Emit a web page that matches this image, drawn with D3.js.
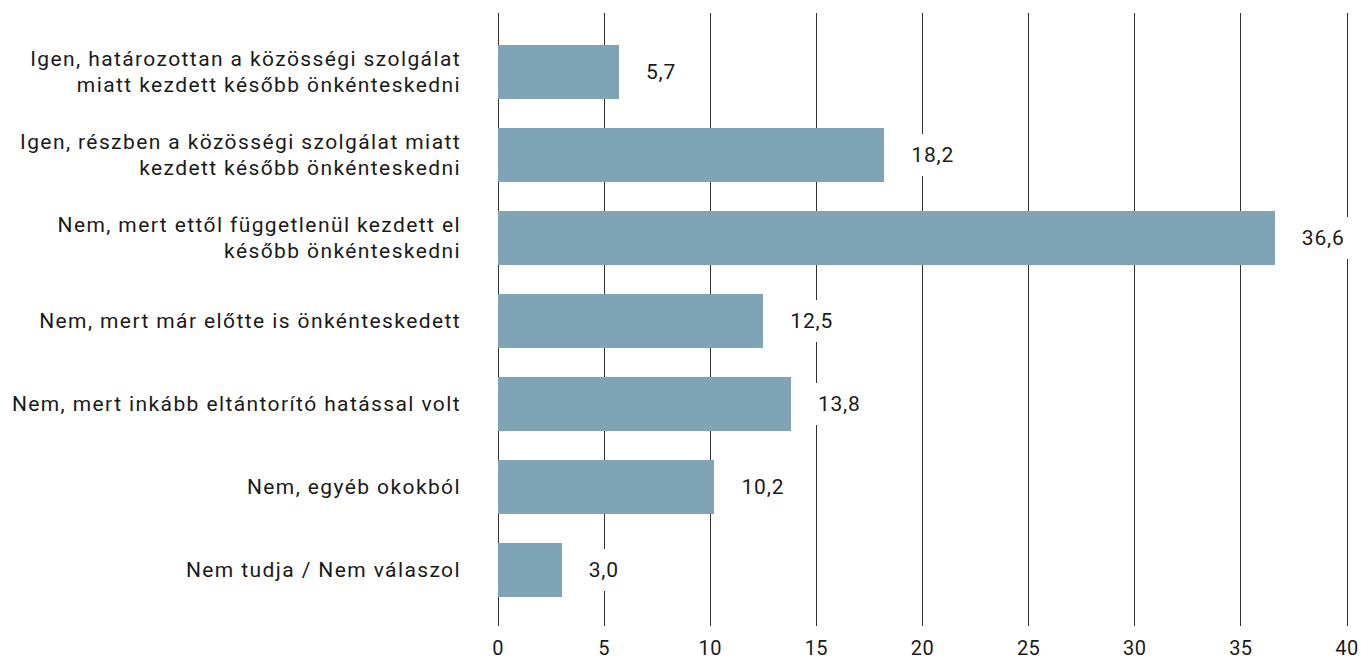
<!DOCTYPE html>
<html>
<head>
<meta charset="utf-8">
<script src="https://cdn.jsdelivr.net/npm/d3@7"></script>
<style>
  body { margin: 0; background: #fff; }
  svg text { font-family: Roboto, "DejaVu Sans", sans-serif; fill: #1a1a1a; }
</style>
</head>
<body>
<svg id="chart" width="1361" height="659"></svg>
<script>
// data
const categories = [
    ["Igen, határozottan a közösségi szolgálat", "miatt kezdett később önkénteskedni"],
    ["Igen, részben a közösségi szolgálat miatt", "kezdett később önkénteskedni"],
    ["Nem, mert ettől függetlenül kezdett el", "később önkénteskedni"],
    ["Nem, mert már előtte is önkénteskedett"],
    ["Nem, mert inkább eltántorító hatással volt"],
    ["Nem, egyéb okokból"],
    ["Nem tudja / Nem válaszol"]
];
const values = [5.7, 18.2, 36.6, 12.5, 13.8, 10.2, 3.0];
const xTicks = [0, 5, 10, 15, 20, 25, 30, 35, 40];

let chart = d3.select("#chart");
let plotLeft = 498, plotRight = 1347, plotTop = 13, plotBottom = 626;

let x = d3.scaleLinear().domain([0, 40]).range([plotLeft, plotRight]);
let y = d3.scaleBand()
    .domain(d3.range(values.length))
    .range([30.5, 30.5 + 7 * 83])
    .paddingInner(0.35)
    .paddingOuter(0.175);

let fmt = function(v) { return d3.format(".1f")(v).replace(".", ","); };

// gridlines
chart.append("g").selectAll("line")
    .data(xTicks)
    .enter()
    .append("line")
    .attr("x1", function(d) { return x(d); })
    .attr("x2", function(d) { return x(d); })
    .attr("y1", plotTop)
    .attr("y2", plotBottom)
    .attr("stroke", "#333")
    .attr("stroke-width", 1)
    .attr("shape-rendering", "crispEdges");

// axis labels
chart.append("g").selectAll("text")
    .data(xTicks)
    .enter()
    .append("text")
    .attr("x", function(d) { return x(d); })
    .attr("y", 648)
    .attr("text-anchor", "middle")
    .attr("dominant-baseline", "central")
    .style("font-size", "20px")
    .style("letter-spacing", "0.5px")
    .text(function(d) { return d; });

// bars
chart.append("g").selectAll("rect")
    .data(values)
    .enter()
    .append("rect")
    .attr("x", x(0))
    .attr("y", function(d, i) { return y(i); })
    .attr("width", function(d) { return x(d) - x(0); })
    .attr("height", y.bandwidth())
    .attr("fill", "#7fa4b6")
    .attr("shape-rendering", "crispEdges");

// value labels with white box
let vl = chart.append("g").selectAll("g")
    .data(values)
    .enter()
    .append("g")
    .attr("transform", function(d, i) {
        return "translate(" + (x(d) + 27) + "," + (y(i) + y.bandwidth() / 2) + ")";
    });

vl.append("text")
    .attr("x", 0)
    .attr("y", 0)
    .attr("dominant-baseline", "central")
    .style("font-size", "21px")
    .style("letter-spacing", "0.8px")
    .text(function(d) { return fmt(d); });

vl.insert("rect", "text")
    .each(function() {
        let bb = this.parentNode.querySelector("text").getBBox();
        d3.select(this)
            .attr("x", bb.x - 8)
            .attr("y", -21)
            .attr("width", bb.width + 16)
            .attr("height", 42)
            .attr("fill", "#fff");
    });

// category labels
let cl = chart.append("g").selectAll("text")
    .data(categories)
    .enter()
    .append("text")
    .attr("x", 461)
    .attr("y", function(d, i) { return y(i) + y.bandwidth() / 2; })
    .attr("text-anchor", "end")
    .style("font-size", "21px")
    .style("letter-spacing", "1.4px");

cl.selectAll("tspan")
    .data(function(d) { return d; })
    .enter()
    .append("tspan")
    .attr("x", 461)
    .attr("dy", function(d, i, nodes) {
        let n = nodes.length;
        return i === 0 ? (-(n - 1) * 13 + 7) + "px" : "26px";
    })
    .text(function(d) { return d; });
</script>
</body>
</html>
